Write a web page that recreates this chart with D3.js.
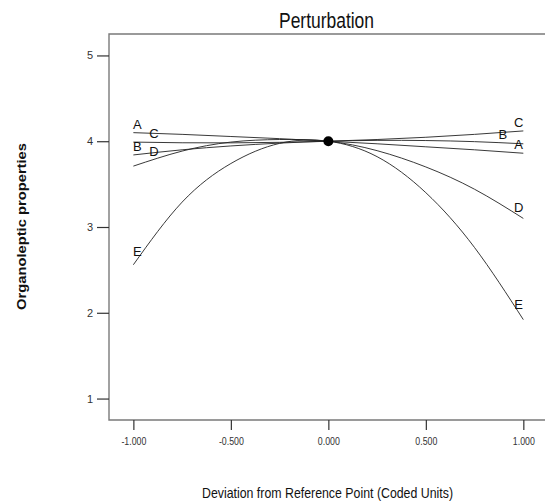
<!DOCTYPE html>
<html>
<head>
<meta charset="utf-8">
<script src="https://cdn.jsdelivr.net/npm/d3@7"></script>
<style>
  body { margin: 0; background: #fff; }
  svg { display: block; font-family: 'Liberation Sans', Arial, sans-serif; }
</style>
</head>
<body>
<svg id="chart" width="545" height="503"></svg>
<script>
// deviation from the reference point (coded units)
const deviation = [-1, -0.75, -0.5, -0.25, 0, 0.25, 0.5, 0.75, 1];
// organoleptic response along each factor
const factorA = [4.10, 4.08, 4.055, 4.03, 4.00, 3.97, 3.935, 3.90, 3.86];
const factorB = [3.84, 3.90, 3.945, 3.978, 4.00, 4.01, 4.008, 3.995, 3.97];
const factorC = [3.99, 3.982, 3.981, 3.987, 4.00, 4.02, 4.046, 4.08, 4.12];
const factorD = [3.71, 3.885, 3.99, 4.02, 4.00, 3.89, 3.70, 3.44, 3.10];
const factorE = [2.56, 3.29, 3.74, 3.975, 4.00, 3.82, 3.40, 2.76, 1.92];
const factorNames = ['A', 'B', 'C', 'D', 'E'];
// where the letters sit along each curve (coded units)
const labelLeftAt = [-0.98, -0.98, -0.895, -0.895, -0.98];
const labelRightAt = [0.976, 0.895, 0.976, 0.976, 0.976];
const referencePoint = [0, 4];
const xTicks = [-1, -0.5, 0, 0.5, 1];
const yTicks = [1, 2, 3, 4, 5];

const series = [factorA, factorB, factorC, factorD, factorE];

const svg = d3.select('#chart');

const x = d3.scaleLinear().domain([-1.125, 1.125]).range([109, 547.7]);
const y = d3.scaleLinear().domain([0.75, 5.25]).range([420, 34]);

// frame (right side runs off the picture)
svg.append('path')
    .attr('d', `M${x.range()[1]},${y.range()[1]}H${x.range()[0]}V${y.range()[0]}H${x.range()[1]}`)
    .attr('fill', 'none')
    .attr('stroke', '#7a7a7a')
    .attr('stroke-width', 1.4);

// x axis
const fmt = d3.format('.3f');
const xAxis = svg.append('g')
    .attr('transform', `translate(0,${y.range()[0]})`)
    .call(d3.axisBottom(x).tickValues(xTicks).tickSize(10).tickPadding(7)
        .tickFormat(d => fmt(d).replace('\u2212', '-')));
xAxis.select('.domain').remove();
xAxis.selectAll('line').attr('stroke', '#333').attr('stroke-width', 1.2);
xAxis.selectAll('text')
    .attr('font-size', 11)
    .attr('fill', '#333')
    .attr('transform', 'scale(0.8,1)');

// y axis
const yAxis = svg.append('g')
    .attr('transform', `translate(${x.range()[0]},0)`)
    .call(d3.axisLeft(y).tickValues(yTicks).tickSize(12).tickPadding(4)
        .tickFormat(d3.format('d')));
yAxis.select('.domain').remove();
yAxis.selectAll('line').attr('stroke', '#333').attr('stroke-width', 1.2);
yAxis.selectAll('text').attr('font-size', 11).attr('fill', '#333');

// curves
const line = d3.line()
    .x((d, i) => x(deviation[i]))
    .y(d => y(d))
    .curve(d3.curveNatural);

svg.append('g')
    .selectAll('path')
    .data(series)
    .enter()
    .append('path')
    .attr('d', d => line(d))
    .attr('fill', 'none')
    .attr('stroke', '#222')
    .attr('stroke-width', 0.9);

// letters on the ends of the curves
const labels = [];
series.forEach((s, i) => {
    const along = d3.scaleLinear().domain(deviation).range(s);
    labels.push({ name: factorNames[i], at: labelLeftAt[i], value: along(labelLeftAt[i]) });
    labels.push({ name: factorNames[i], at: labelRightAt[i], value: along(labelRightAt[i]) });
});

svg.append('g')
    .selectAll('text')
    .data(labels)
    .enter()
    .append('text')
    .attr('x', d => x(d.at))
    .attr('y', d => y(d.value) - 4)
    .attr('text-anchor', 'middle')
    .attr('font-size', 13)
    .attr('fill', '#111')
    .text(d => d.name);

// reference point
svg.append('circle')
    .attr('cx', x(referencePoint[0]))
    .attr('cy', y(referencePoint[1]))
    .attr('r', 5)
    .attr('fill', '#000');

// titles
svg.append('text')
    .attr('x', 279)
    .attr('y', 28)
    .attr('font-size', 22)
    .attr('fill', '#111')
    .attr('textLength', 95)
    .attr('lengthAdjust', 'spacingAndGlyphs')
    .text('Perturbation');

svg.append('text')
    .attr('x', 202)
    .attr('y', 498)
    .attr('font-size', 15)
    .attr('fill', '#111')
    .attr('textLength', 251)
    .attr('lengthAdjust', 'spacingAndGlyphs')
    .text('Deviation from Reference Point (Coded Units)');

svg.append('text')
    .attr('transform', 'translate(26,310) rotate(-90)')
    .attr('font-size', 13.5)
    .attr('font-weight', 'bold')
    .attr('fill', '#111')
    .attr('textLength', 167)
    .attr('lengthAdjust', 'spacingAndGlyphs')
    .text('Organoleptic properties');
</script>
</body>
</html>
